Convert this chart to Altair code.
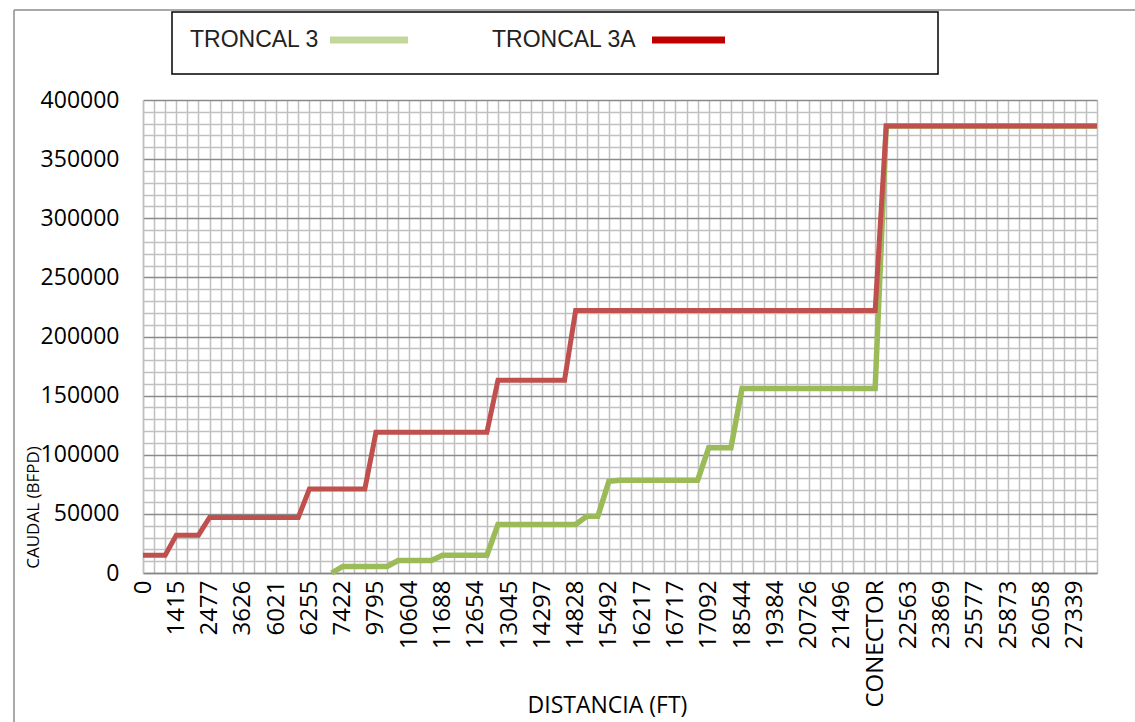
import altair as alt
import pandas as pd

# Category tick labels (every 3rd category of 87 along the pipeline)
tick_labels = ["0", "1415", "2477", "3626", "6021", "6255", "7422", "9795", "10604",
               "11688", "12654", "13045", "14297", "14828", "15492", "16217", "16717",
               "17092", "18544", "19384", "20726", "21496", "CONECTOR", "22563",
               "23869", "25577", "25873", "26058", "27339"]

# Flow (BFPD) per category index 0..86
troncal_3a = [15000, 15000, 15000, 32000, 32000, 32000, 47000, 47000, 47000, 47000,
              47000, 47000, 47000, 47000, 47000, 71000, 71000, 71000, 71000, 71000,
              71000, 119000, 119000, 119000, 119000, 119000, 119000, 119000, 119000, 119000,
              119000, 119000, 163000, 163000, 163000, 163000, 163000, 163000, 163000, 222000,
              222000, 222000, 222000, 222000, 222000, 222000, 222000, 222000, 222000, 222000,
              222000, 222000, 222000, 222000, 222000, 222000, 222000, 222000, 222000, 222000,
              222000, 222000, 222000, 222000, 222000, 222000, 222000, 378000, 378000, 378000,
              378000, 378000, 378000, 378000, 378000, 378000, 378000, 378000, 378000, 378000,
              378000, 378000, 378000, 378000, 378000, 378000, 378000]

troncal_3 = [None, None, None, None, None, None, None, None, None, None,
             None, None, None, None, None, None, None, 0, 5500, 5500,
             5500, 5500, 5500, 10500, 10500, 10500, 10500, 15000, 15000, 15000,
             15000, 15000, 41000, 41000, 41000, 41000, 41000, 41000, 41000, 41000,
             48000, 48000, 77500, 78500, 78500, 78500, 78500, 78500, 78500, 78500,
             78500, 106000, 106000, 106000, 156000, 156000, 156000, 156000, 156000, 156000,
             156000, 156000, 156000, 156000, 156000, 156000, 156000, 378000, 378000, 378000,
             378000, 378000, 378000, 378000, 378000, 378000, 378000, 378000, 378000, 378000,
             378000, 378000, 378000, 378000, 378000, 378000, 378000]

n = len(troncal_3a)
rows = []
for i in range(n):
    rows.append({"idx": i, "serie": "TRONCAL 3A", "caudal": troncal_3a[i]})
    if troncal_3[i] is not None:
        rows.append({"idx": i, "serie": "TRONCAL 3", "caudal": troncal_3[i]})
df = pd.DataFrame(rows)

FONT = "Open Sans"
labels_js = "[" + ",".join("'" + s + "'" for s in tick_labels) + "]"

x_enc = alt.X(
    "idx:Q",
    scale=alt.Scale(domain=[0, n - 1], nice=False, zero=False),
    axis=alt.Axis(
        values=list(range(n)),
        labelExpr=f"datum.value % 3 === 0 ? {labels_js}[datum.value / 3] : ''",
        labelAngle=270, labelOverlap=False, labelFlush=False, labelBound=False,
        labelFont=FONT, labelFontSize=24, labelColor="#000000", labelPadding=7,
        ticks=False, grid=True, gridColor="#c0c0c0", gridWidth=1.5,
        domainColor="#868686", domainWidth=1.5,
        title="DISTANCIA (FT)", titleFont=FONT, titleFontSize=23, titleFontWeight="normal",
        titleColor="#000000", titleX=464, titleY=132, titleAlign="center",
        titleBaseline="middle", titleAngle=0,
    ),
)
y_enc = alt.Y(
    "caudal:Q",
    scale=alt.Scale(domain=[0, 400000], nice=False),
    axis=alt.Axis(
        values=list(range(0, 400001, 10000)),
        labelExpr="datum.value % 50000 === 0 ? format(datum.value, 'd') : ''",
        labelFont=FONT, labelFontSize=23, labelColor="#000000", labelPadding=24,
        ticks=False, grid=True,
        gridColor={"condition": {"test": "datum.value % 50000 === 0", "value": "#8a8a8a"},
                   "value": "#c0c0c0"},
        gridWidth=1.5, domainColor="#c0c0c0", domainWidth=1.5,
        title="CAUDAL (BFPD)", titleFont=FONT, titleFontSize=17, titleFontWeight="normal",
        titleColor="#000000", titleAngle=270, titleX=-110, titleY=407,
        titleAlign="center", titleBaseline="middle",
    ),
)

base = alt.Chart(df)
green = base.transform_filter(alt.datum.serie == "TRONCAL 3").mark_line(
    color="#9BBB59", strokeWidth=5.5).encode(x=x_enc, y=y_enc)
red = base.transform_filter(alt.datum.serie == "TRONCAL 3A").mark_line(
    color="#C0504D", strokeWidth=5).encode(x=x_enc, y=y_enc)

dummy = alt.Chart(pd.DataFrame({"k": [0]}))

# Chart-area border (top and left edges visible)
border_top = dummy.mark_rule(color="#8c8c8c", strokeWidth=1.5).encode(
    x=alt.value(-129), x2=alt.value(992), y=alt.value(-90))
border_left = dummy.mark_rule(color="#8c8c8c", strokeWidth=1.5).encode(
    x=alt.value(-129), y=alt.value(-90), y2=alt.value(622))

# Legend box
legend_box = dummy.mark_rect(fill="white", stroke="#000000", strokeWidth=1.5).encode(
    x=alt.value(29), x2=alt.value(795), y=alt.value(-88), y2=alt.value(-26))
leg_t1 = dummy.mark_text(text="TRONCAL 3", font="Liberation Sans", fontSize=23,
                         color="#222222", align="left", baseline="alphabetic").encode(
    x=alt.value(47), y=alt.value(-53))
leg_s1 = dummy.mark_rule(color="#C4D79B", strokeWidth=7).encode(
    x=alt.value(187), x2=alt.value(265), y=alt.value(-60))
leg_t2 = dummy.mark_text(text="TRONCAL 3A", font="Liberation Sans", fontSize=23,
                         color="#222222", align="left", baseline="alphabetic").encode(
    x=alt.value(349), y=alt.value(-53))
leg_s2 = dummy.mark_rule(color="#C00000", strokeWidth=7).encode(
    x=alt.value(509), x2=alt.value(582), y=alt.value(-60))

chart = alt.layer(
    green, red, border_top, border_left, legend_box, leg_t1, leg_s1, leg_t2, leg_s2
).properties(
    width=954, height=473,
    autosize=alt.AutoSizeParams(type="none"),
    padding={"left": 143, "top": 100, "right": 38, "bottom": 149},
    background="white",
).configure_view(stroke=None)

chart.save("out.html", embed_options={"renderer": "svg", "actions": False})
